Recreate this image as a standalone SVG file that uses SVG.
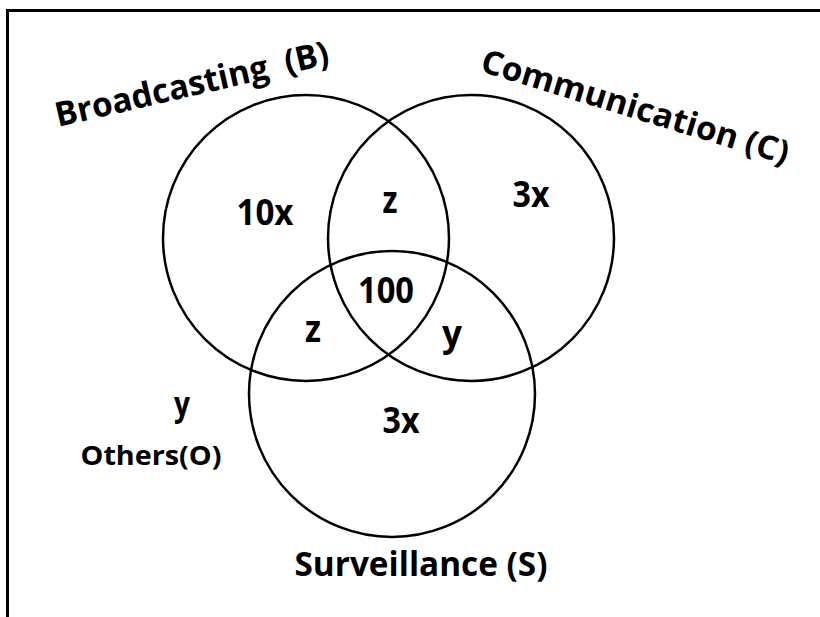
<svg xmlns="http://www.w3.org/2000/svg" width="820" height="617" viewBox="0 0 820 617">
<style>
.c{fill:none;stroke:#000;stroke-width:2.5}
.t{font-family:"Open Sans","Liberation Sans",sans-serif;font-weight:700;fill:#000;text-anchor:middle}
</style>
<rect width="820" height="617" fill="#fff"/>
<path d="M7.5 617 V10.5 H820" fill="none" stroke="#000" stroke-width="3"/>
<g id="B"><circle class="c" cx="306" cy="238" r="143"/></g>
<g id="C"><circle class="c" cx="471" cy="238" r="143"/></g>
<g id="S"><circle class="c" cx="392" cy="394" r="143"/></g>
<g id="labels">
<text class="t" style="text-anchor:start" font-size="34" transform="translate(58 127) rotate(-13)" textLength="280" lengthAdjust="spacingAndGlyphs">Broadcasting&#160; (B)</text>
<text class="t" style="text-anchor:start" font-size="33" transform="translate(479 71) rotate(17)" textLength="320" lengthAdjust="spacingAndGlyphs">Communication (C)</text>
<text class="t" font-size="35" x="265" y="225" textLength="57" lengthAdjust="spacingAndGlyphs">10x</text>
<text class="t" font-size="38" x="390" y="213" textLength="15" lengthAdjust="spacingAndGlyphs">z</text>
<text class="t" font-size="35" x="531" y="207" textLength="37" lengthAdjust="spacingAndGlyphs">3x</text>
<text class="t" font-size="36" x="386" y="303" textLength="56" lengthAdjust="spacingAndGlyphs">100</text>
<text class="t" font-size="38" x="313" y="342" textLength="16" lengthAdjust="spacingAndGlyphs">z</text>
<text class="t" font-size="35" x="452" y="346" textLength="20" lengthAdjust="spacingAndGlyphs">y</text>
<text class="t" font-size="34" x="182" y="416" textLength="16" lengthAdjust="spacingAndGlyphs">y</text>
<text class="t" font-size="27" x="151" y="465" textLength="141" lengthAdjust="spacingAndGlyphs">Others(O)</text>
<text class="t" font-size="35" x="401" y="433" textLength="37" lengthAdjust="spacingAndGlyphs">3x</text>
<text class="t" font-size="34" x="421" y="576" textLength="253" lengthAdjust="spacingAndGlyphs">Surveillance (S)</text>
</g>
</svg>
